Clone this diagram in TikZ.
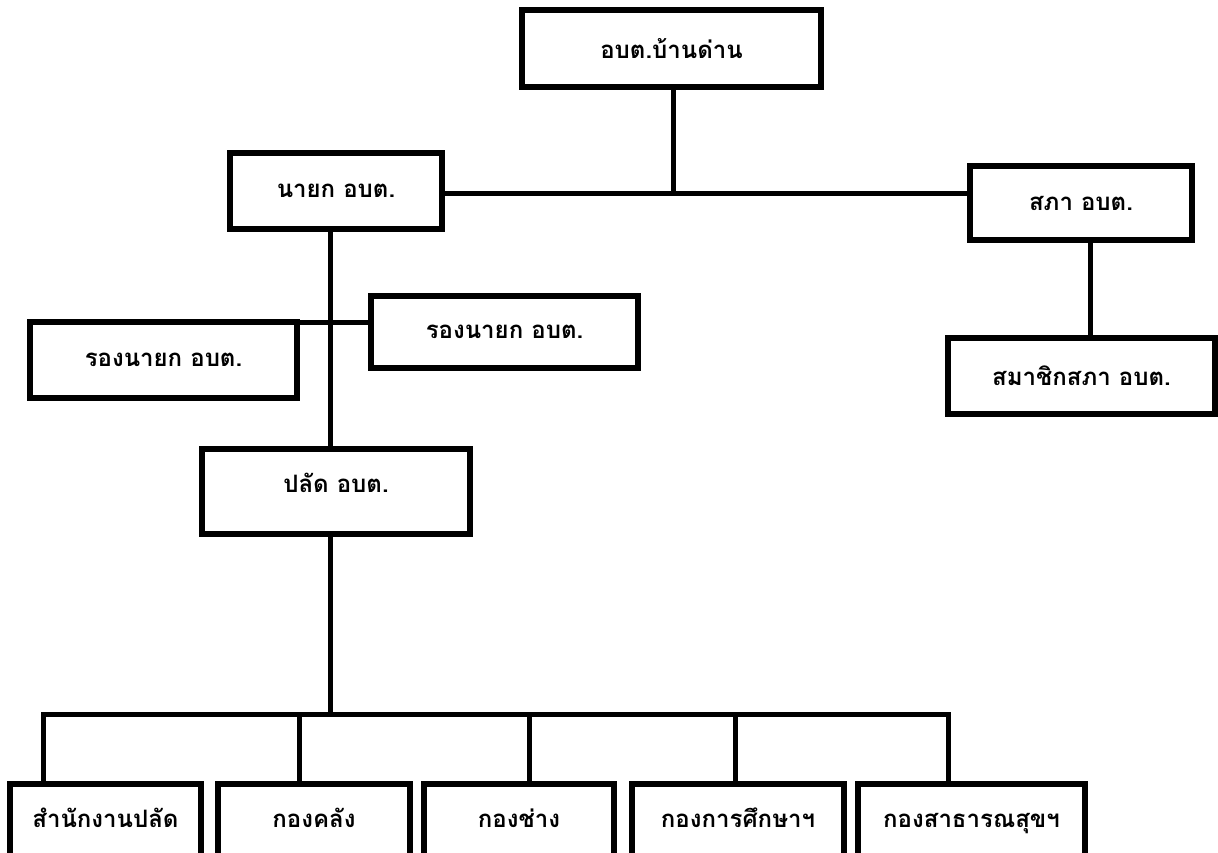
\documentclass[tikz,border=0pt]{standalone}
\usepackage{fontspec}
\newfontfamily\thaifont[Script=Thai]{Loma}
\tikzset{
  box/.style={draw=black, line width=6pt, fill=white, inner sep=0pt, rectangle,
    font=\thaifont\bfseries\fontsize{24}{28}\selectfont, align=center},
  bottombox/.style={box, anchor=north, text height=43pt, text depth=60pt},
  link/.style={draw=black, line width=5pt, line join=miter}
}
\begin{document}
\begin{tikzpicture}[x=1pt,y=-1pt]
\useasboundingbox (0,0) rectangle (1218,852);
\clip (0,0) rectangle (1218,852);
\fill[white] (0,0) rectangle (1218,852);

% nodes
\node[box, minimum width=299pt, minimum height=77pt] (top) at (671.5,48.5) {อบต.บ้านด่าน};
\node[box, minimum width=212pt, minimum height=76pt] (nayok) at (336,191) {นายก อบต.};
\node[box, minimum width=222pt, minimum height=74pt] (sapha) at (1081,203) {สภา อบต.};
\node[box, minimum width=267pt, minimum height=76pt] (member) at (1081.5,376) {สมาชิกสภา อบต.};
\node[box, minimum width=267pt, minimum height=76pt] (rongL) at (163.5,360) {รองนายก อบต.};
\node[box, minimum width=267pt, minimum height=72pt] (rongR) at (504.5,332) {รองนายก อบต.};
\node[box, minimum width=268pt, minimum height=85pt, text depth=18pt] (palat) at (336,491.5) {ปลัด อบต.};

\node[bottombox, minimum width=191pt] (b1) at (105.5,781) {สำนักงานปลัด};
\node[bottombox, minimum width=192pt] (b2) at (314,781) {กองคลัง};
\node[bottombox, minimum width=190pt] (b3) at (519,781) {กองช่าง};
\node[bottombox, minimum width=212pt] (b4) at (738,781) {กองการศึกษาฯ};
\node[bottombox, minimum width=227pt] (b5) at (971.5,781) {กองสาธารณสุขฯ};

% helper coordinates
\coordinate (j1) at (673,193);
\coordinate (vx) at (330,322);
\coordinate (sx) at (1090,300);
\coordinate (bus) at (330,714);
\coordinate (d1) at (43,714);
\coordinate (d2) at (299,714);
\coordinate (d3) at (529,714);
\coordinate (d4) at (735,714);
\coordinate (d5) at (948,714);

% connectors
\draw[link] (j1 |- top.south) -- (j1);
\draw[link] (nayok.east |- j1) -- (sapha.west |- j1);
\draw[link] (sx |- sapha.south) -- (sx |- member.north);
\draw[link] (vx |- nayok.south) -- (vx |- palat.north);
\draw[link] (rongL.east |- vx) -- (rongR.west |- vx);
\draw[link] (vx |- palat.south) -- (bus);
\draw[link] (d1 |- b1.north) -- (d1) -- (d5) -- (d5 |- b5.north);
\draw[link] (d2) -- (d2 |- b2.north);
\draw[link] (d3) -- (d3 |- b3.north);
\draw[link] (d4) -- (d4 |- b4.north);
\end{tikzpicture}
\end{document}
